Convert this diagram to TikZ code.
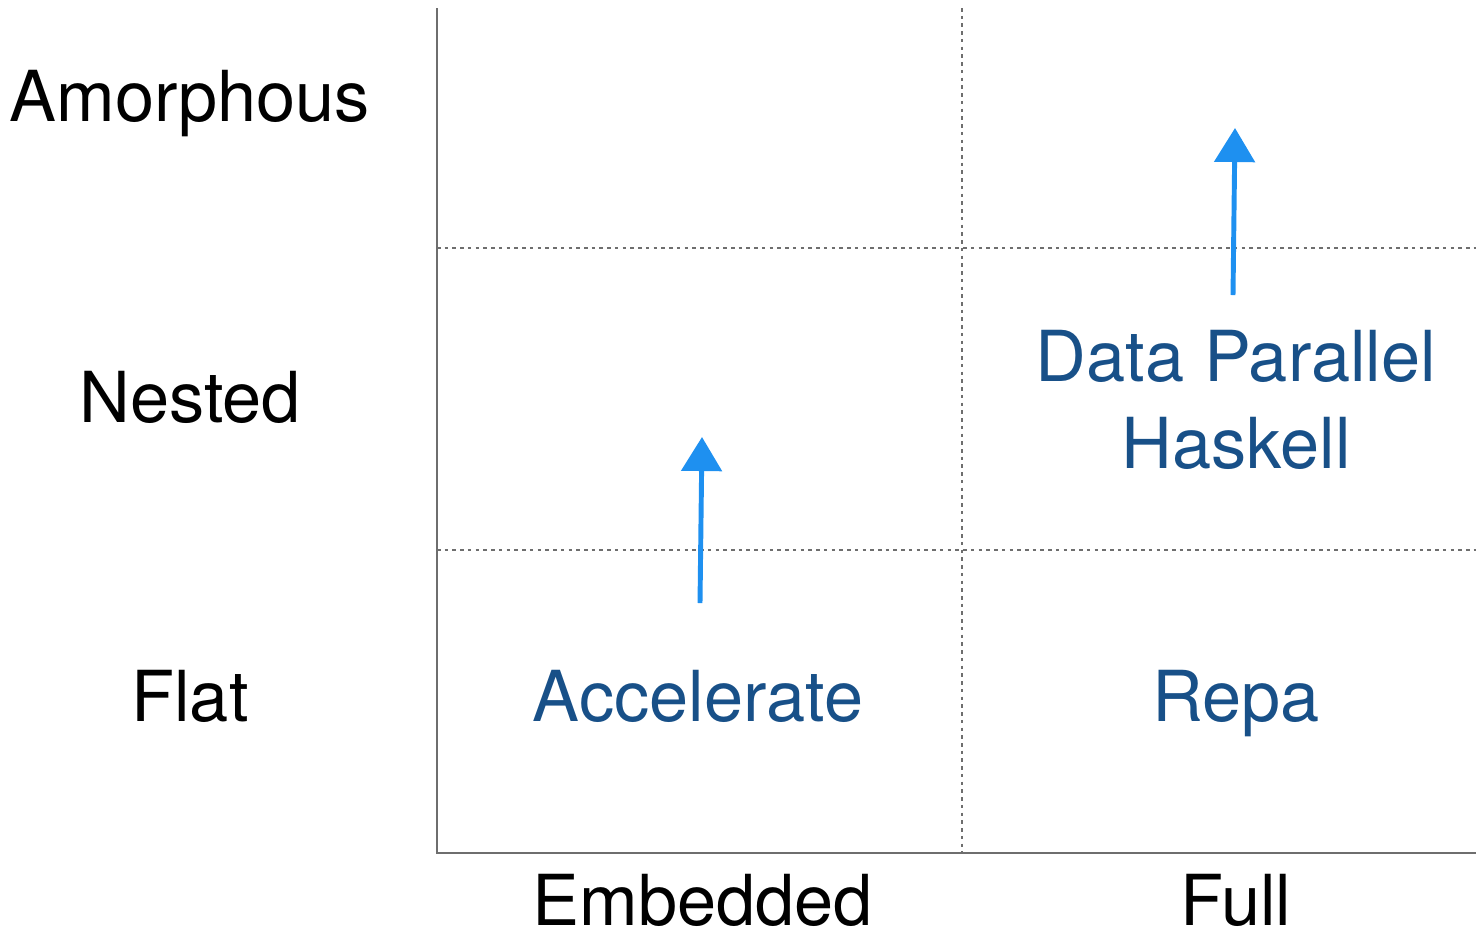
\documentclass[tikz,border=0pt]{standalone}
\usepackage{fontspec}
\setmainfont{TeX Gyre Heros}
\usetikzlibrary{arrows.meta}
\definecolor{progblue}{RGB}{24,80,136}
\definecolor{arrowblue}{RGB}{30,144,240}
\definecolor{axisgray}{RGB}{110,110,110}

\begin{document}
\begin{tikzpicture}[
    x=0.01cm, y=-0.01cm,
    lbl/.style={inner sep=0pt, anchor=base, font=\fontsize{20}{24.5}\selectfont},
    prog/.style={lbl, text=progblue, align=center},
    axis/.style={axisgray, line width=0.6pt},
    grid/.style={axisgray, line width=0.45pt, dash pattern=on 1pt off 1.2pt},
    up/.style={-{Triangle[length=0.34cm, width=0.4cm]}, arrowblue, line width=1.4pt}
  ]
    \useasboundingbox (0,0) rectangle (1476,941);

    %% ── Axes and grid
    \draw[grid] (437,248) -- (1476,248);
    \draw[grid] (437,550) -- (1476,550);
    \draw[grid] (962,8) -- (962,853);
    \draw[axis] (437,8) -- (437,853) -- (1476,853);

    %% ── Row labels
    \node[lbl] (amorph) at (190,121) {Amorphous};
    \node[lbl] (nested) at (190,422) {Nested};
    \node[lbl] (flat)   at (190,721) {Flat};

    %% ── Column labels
    \node[lbl] (embed) at (703,925) {Embedded};
    \node[lbl] (full)  at (1236,925) {Full};

    %% ── Systems
    \node[prog] (accel) at (698,721)  {Accelerate};
    \node[prog] (repa)  at (1236,721) {Repa};
    \node[prog] (dph)   at (1236,468) {Data Parallel\\Haskell};

    %% ── Arrows
    \coordinate (accelfrom) at (700,603);
    \coordinate (accelto)   at (702,437);
    \coordinate (dphfrom)   at (1233,295);
    \coordinate (dphto)     at (1235,128);
    \draw[up] (accelfrom) -- (accelto);
    \draw[up] (dphfrom) -- (dphto);

  \end{tikzpicture}
\end{document}
